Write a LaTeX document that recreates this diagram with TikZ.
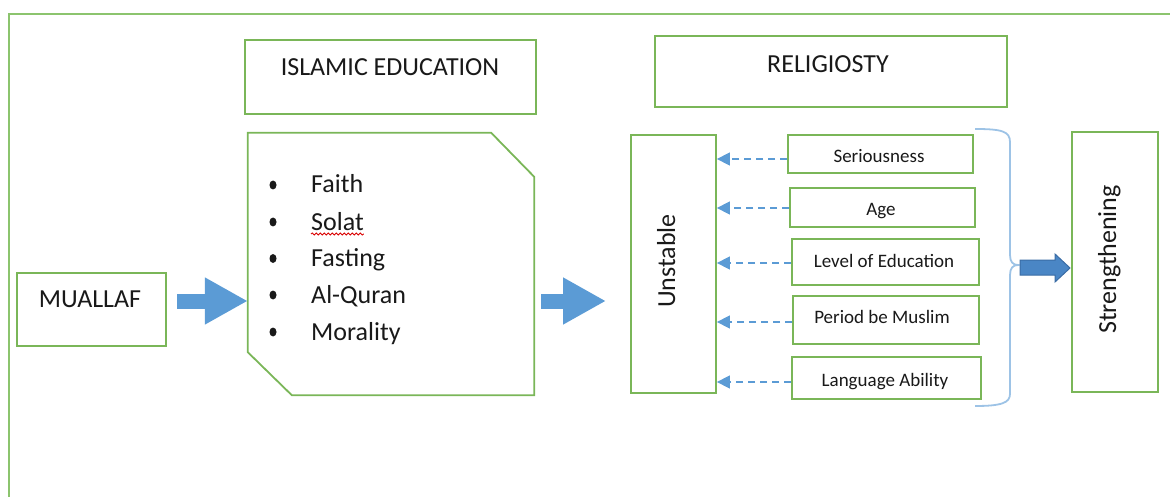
\documentclass[tikz,border=0pt]{standalone}
\usepackage{fontspec}
\setmainfont{Carlito}
\usetikzlibrary{arrows.meta,decorations.pathmorphing,shapes.geometric}
\definecolor{boxgreen}{RGB}{122,182,88}
\definecolor{framegreen}{RGB}{140,196,110}
\definecolor{flowblue}{RGB}{91,155,213}
\definecolor{darkflow}{RGB}{74,134,197}
\definecolor{darkedge}{RGB}{58,108,165}
\definecolor{bracecol}{RGB}{157,195,230}
\definecolor{ink}{RGB}{25,25,25}
\begin{document}
\begin{tikzpicture}[x=1pt,y=-1pt,
  box/.style={draw=boxgreen, line width=1.8pt, inner sep=0pt, fill=white},
  bigtext/.style={text=ink, font=\fontsize{26}{30}\selectfont, inner sep=0pt, anchor=base},
  smalltext/.style={text=ink, font=\fontsize{19}{22}\selectfont, inner sep=0pt, anchor=base},
  listitem/.style={text=ink, font=\fontsize{26}{30}\selectfont, inner sep=0pt, anchor=base west},
  bulletdot/.style={shape=ellipse, fill=ink, minimum width=7pt, minimum height=9pt, inner sep=0pt},
  blockarrow/.style={draw=flowblue, line width=15pt, -{Triangle[length=43pt,width=44pt]}},
  factorarrow/.style={draw=flowblue, line width=1.5pt, dash pattern=on 7pt off 5pt, -{Triangle[length=13pt,width=13pt]}}
]
\useasboundingbox (0,0) rectangle (1170,497);

% outer frame
\draw[framegreen, line width=2pt] (9,497) -- (9,14) -- (1170,14);

% main boxes
\node[box, minimum width=149pt, minimum height=73pt] (muallaf) at (91.5,309.5) {};
\node[bigtext] (muallaftext) at (90,307) {MUALLAF};

\node[box, minimum width=291pt, minimum height=74pt] (ie) at (390.5,77) {};
\node[bigtext] (ietext) at (390,76) {ISLAMIC EDUCATION};

\node[box, minimum width=352pt, minimum height=71pt] (rel) at (831,71.5) {};
\node[bigtext] (reltext) at (828,73) {RELIGIOSTY};

% snipped list box
\node[minimum width=286pt, minimum height=262pt, inner sep=0pt] (edu) at (391,264) {};
\draw[boxgreen, line width=1.8pt, line join=miter]
  (edu.north west) -- ([xshift=-43pt]edu.north east) -- ([yshift=-44pt]edu.north east)
  -- (edu.south east) -- ([xshift=44pt]edu.south west) -- ([yshift=43pt]edu.south west) -- cycle;

\node[bulletdot] (b1) at (273,185) {};
\node[bulletdot] (b2) at (273,222) {};
\node[bulletdot] (b3) at (273,258.5) {};
\node[bulletdot] (b4) at (273,295) {};
\node[bulletdot] (b5) at (273,332) {};
\node[listitem] (i1) at (311,193) {Faith};
\node[listitem] (i2) at (311,230) {Solat};
\node[listitem] (i3) at (311,266.5) {Fasting};
\node[listitem] (i4) at (311,303) {Al-Quran};
\node[listitem] (i5) at (311,340) {Morality};
\draw[red!85!black, line width=0.8pt, decorate, decoration={snake, amplitude=1.1pt, segment length=4pt}]
  ([yshift=-4pt]i2.base west) -- ([yshift=-4pt]i2.base east);

% unstable / strengthening
\node[box, minimum width=85pt, minimum height=258pt] (unst) at (673.5,264) {};
\node[bigtext, rotate=90] (unsttext) at (675,261) {Unstable};

\node[box, minimum width=86pt, minimum height=260pt] (str) at (1115,262) {};
\node[bigtext, rotate=90] (strtext) at (1116,259.5) {Strengthening};

% factor boxes
\node[box, minimum width=185pt, minimum height=38pt] (ser) at (880.5,154) {};
\node[smalltext] (sertext) at (879,163) {Seriousness};
\node[box, minimum width=185pt, minimum height=39pt] (agebox) at (882.5,207.5) {};
\node[smalltext] (agetext) at (881,216) {Age};
\node[box, minimum width=187pt, minimum height=46pt] (lev) at (885.5,262) {};
\node[smalltext] (levtext) at (884,268) {Level of Education};
\node[box, minimum width=186pt, minimum height=48pt] (per) at (886,320) {};
\node[smalltext] (pertext) at (882,323) {Period be Muslim};
\node[box, minimum width=189pt, minimum height=42pt] (lan) at (886.5,378) {};
\node[smalltext] (lantext) at (885,386) {Language Ability};

% dashed influence arrows
\draw[factorarrow] ([yshift=-5pt]ser.west) -- ([yshift=-5pt]ser.west -| unst.east);
\draw[factorarrow] ([yshift=-0.5pt]agebox.west) -- ([yshift=-0.5pt]agebox.west -| unst.east);
\draw[factorarrow] ([yshift=-1pt]lev.west) -- ([yshift=-1pt]lev.west -| unst.east);
\draw[factorarrow] ([yshift=-2pt]per.west) -- ([yshift=-2pt]per.west -| unst.east);
\draw[factorarrow] ([yshift=-4pt]lan.west) -- ([yshift=-4pt]lan.west -| unst.east);

% block arrows
\coordinate (a1s) at (177,301);
\coordinate (a2s) at (541,301);
\coordinate (a2e) at (606,301);
\draw[blockarrow] (a1s) -- (a1s -| edu.west);
\draw[blockarrow] (a2s) -- (a2e);

% brace
\draw[bracecol, line width=1.8pt]
  (975,129) .. controls (1001,129) and (1010,131) .. (1010,142)
  -- (1010,255) .. controls (1010,262) and (1013,265) .. (1018,265)
  .. controls (1013,265) and (1010,268) .. (1010,275)
  -- (1010,394) .. controls (1010,403) and (1001,406) .. (975,406);

% arrow from brace to strengthening
\filldraw[fill=darkflow, draw=darkedge, line width=1pt, line join=miter]
  (1020,260) -- (1055,260) -- (1055,254) -- (1070,268) -- (1055,282) -- (1055,275) -- (1020,275) -- cycle;
\end{tikzpicture}
\end{document}
